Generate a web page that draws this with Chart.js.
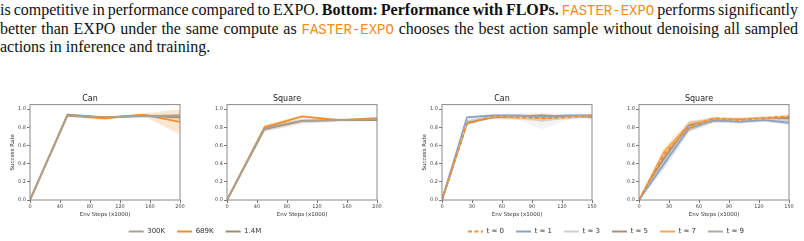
<!DOCTYPE html>
<html>
<head>
<meta charset="utf-8">
<script src="https://cdn.jsdelivr.net/npm/chart.js@4.4.1/dist/chart.umd.min.js"></script>
<style>
  body { margin: 0; width: 804px; height: 241px; overflow: hidden; background: #fff; position: relative; }
  .caption { position: absolute; left: 0; width: 798px; font-family: "Liberation Serif", serif; font-size: 16px; line-height: 18.5px; color: #111; }
  .caption.j { text-align: justify; text-align-last: justify; }
  .code { font-family: "Liberation Mono", monospace; color: #f28b20; font-size: 14px; }
  canvas { position: absolute; }
</style>
</head>
<body>
<div class="caption j" style="top:1px; word-spacing:-1px">is competitive in performance compared to EXPO. <b>Bottom: Performance with FLOPs.</b> <span class="code">FASTER-EXPO</span> performs significantly</div>
<div class="caption j" style="top:19.5px">better than EXPO under the same compute as <span class="code">FASTER-EXPO</span> chooses the best action sample without denoising all sampled</div>
<div class="caption" style="top:38px">actions in inference and training.</div>

<canvas id="canCompute" width="190" height="128" style="left:0px;top:90px"></canvas>
<canvas id="squareCompute" width="190" height="128" style="left:197px;top:90px"></canvas>
<canvas id="canDenoise" width="190" height="128" style="left:412px;top:90px"></canvas>
<canvas id="squareDenoise" width="190" height="128" style="left:609px;top:90px"></canvas>
<canvas id="computeLegend" width="390" height="25" style="left:0px;top:216px"></canvas>
<canvas id="denoiseLegend" width="392" height="25" style="left:410px;top:216px"></canvas>

<script>
const leftSteps = [0, 50, 100, 150, 200];
const rightSteps = [0, 25, 50, 75, 100, 125, 150];
const computeLabels = ['300K', '689K', '1.4M'];
const denoiseLabels = ['t = 0', 't = 1', 't = 3', 't = 5', 't = 7', 't = 9'];

// success rate, one row per series (300K, 689K, 1.4M)
const canComputeMean = [
    [0, 0.93, 0.91, 0.92, 0.93],
    [0, 0.93, 0.90, 0.94, 0.86],
    [0, 0.94, 0.91, 0.93, 0.91]
];
const canComputeSpread = [
    [0, 0.01, 0.01, 0.01, 0.02],
    [0, 0.02, 0.02, 0.01, 0.14],
    [0, 0.01, 0.01, 0.01, 0.03]
];
const squareComputeMean = [
    [0, 0.79, 0.87, 0.88, 0.89],
    [0, 0.80, 0.92, 0.88, 0.90],
    [0, 0.78, 0.87, 0.88, 0.88]
];
const squareComputeSpread = [
    [0, 0.03, 0.02, 0.01, 0.01],
    [0, 0.03, 0.01, 0.01, 0.01],
    [0, 0.03, 0.03, 0.02, 0.01]
];

// success rate, one row per denoising setting
const canDenoiseMean = [
    [0, 0.84, 0.92, 0.91, 0.90, 0.91, 0.93],
    [0, 0.91, 0.93, 0.93, 0.92, 0.93, 0.93],
    [0, 0.87, 0.92, 0.92, 0.87, 0.91, 0.92],
    [0, 0.85, 0.91, 0.92, 0.93, 0.92, 0.91],
    [0, 0.85, 0.91, 0.91, 0.91, 0.91, 0.93],
    [0, 0.86, 0.91, 0.92, 0.91, 0.92, 0.92]
];
const canDenoiseSpread = [
    [0, 0.02, 0.01, 0.02, 0.03, 0.02, 0.01],
    [0, 0.01, 0.01, 0.01, 0.01, 0.01, 0.01],
    [0, 0.02, 0.02, 0.03, 0.09, 0.03, 0.02],
    [0, 0.02, 0.01, 0.01, 0.01, 0.01, 0.01],
    [0, 0.02, 0.02, 0.03, 0.04, 0.02, 0.01],
    [0, 0.02, 0.01, 0.01, 0.01, 0.01, 0.01]
];
const squareDenoiseMean = [
    [0, 0.50, 0.80, 0.90, 0.88, 0.90, 0.92],
    [0, 0.40, 0.79, 0.88, 0.86, 0.88, 0.85],
    [0, 0.42, 0.80, 0.88, 0.87, 0.89, 0.88],
    [0, 0.46, 0.82, 0.87, 0.88, 0.89, 0.90],
    [0, 0.53, 0.83, 0.89, 0.89, 0.90, 0.91],
    [0, 0.44, 0.81, 0.88, 0.88, 0.89, 0.89]
];
const squareDenoiseSpread = [
    [0, 0.05, 0.04, 0.02, 0.02, 0.02, 0.02],
    [0, 0.06, 0.04, 0.02, 0.02, 0.02, 0.03],
    [0, 0.07, 0.06, 0.03, 0.02, 0.02, 0.02],
    [0, 0.06, 0.05, 0.02, 0.02, 0.02, 0.02],
    [0, 0.05, 0.04, 0.02, 0.02, 0.02, 0.02],
    [0, 0.06, 0.05, 0.02, 0.02, 0.02, 0.02]
];

const computeColours = ['#a9a293', '#f28e2b', '#a08a72'];
const computeDashes = [[], [], []];
const denoiseColours = ['#f28e2b', '#8fa2bf', '#cfcfcf', '#a88f76', '#f6a855', '#b2ab9c'];
const denoiseDashes = [[4, 2.5], [], [], [], [], []];

const FONT = 'DejaVu Sans';

function fade(hex, alpha) {
    const n = parseInt(hex.slice(1), 16);
    return `rgba(${(n >> 16) & 255}, ${(n >> 8) & 255}, ${n & 255}, ${alpha})`;
}

// matplotlib style box round the plot
const framePlugin = {
    id: 'frame',
    afterDraw(chart) {
        const { ctx, chartArea: a } = chart;
        ctx.save();
        ctx.strokeStyle = '#8a8a8a';
        ctx.lineWidth = 1;
        ctx.strokeRect(a.left, a.top, a.right - a.left, a.bottom - a.top);
        ctx.restore();
    }
};

function buildPanel(canvasId, title, steps, xStep, means, spreads, colours, dashes, showYTitle) {
    const lines = means.map((mean, i) => ({
        data: steps.map((x, j) => ({ x, y: mean[j] })),
        borderColor: colours[i],
        borderWidth: 1.8,
        borderDash: dashes[i],
        pointRadius: 0,
        fill: false
    }));

    // shaded bands go after the lines, fills are drawn first anyway
    const bands = [];
    means.forEach((mean, i) => {
        bands.push({
            data: steps.map((x, j) => ({ x, y: mean[j] + spreads[i][j] })),
            borderWidth: 0,
            pointRadius: 0,
            fill: false
        });
        bands.push({
            data: steps.map((x, j) => ({ x, y: mean[j] - spreads[i][j] })),
            borderWidth: 0,
            pointRadius: 0,
            fill: '-1',
            backgroundColor: fade(colours[i], 0.22)
        });
    });

    const ctx = document.getElementById(canvasId).getContext('2d');
    return new Chart(ctx, {
        type: 'line',
        data: { datasets: lines.concat(bands) },
        options: {
            responsive: false,
            animation: false,
            layout: { padding: { left: 0, right: 10, top: 0, bottom: 0 } },
            scales: {
                x: {
                    type: 'linear',
                    min: 0,
                    max: steps[steps.length - 1],
                    ticks: {
                        stepSize: xStep,
                        autoSkip: false,
                        maxRotation: 0,
                        padding: 1,
                        color: '#444',
                        font: { family: FONT, size: 5 }
                    },
                    grid: { drawOnChartArea: false, tickLength: 3, tickColor: '#555', tickWidth: 0.8 },
                    border: { display: false },
                    title: {
                        display: true,
                        text: 'Env Steps (x1000)',
                        color: '#333',
                        font: { family: FONT, size: 5.5 },
                        padding: { top: 0, bottom: 0 }
                    },
                    afterFit: scale => { scale.height = 18; }
                },
                y: {
                    min: 0,
                    max: 1.05,
                    ticks: {
                        stepSize: 0.2,
                        includeBounds: false,
                        padding: 1,
                        color: '#444',
                        font: { family: FONT, size: 5 },
                        callback: v => v.toFixed(1)
                    },
                    grid: { drawOnChartArea: false, tickLength: 3, tickColor: '#555', tickWidth: 0.8 },
                    border: { display: false },
                    title: {
                        display: showYTitle,
                        text: 'Success Rate',
                        color: '#333',
                        font: { family: FONT, size: 5.5 },
                        padding: { top: 9.4, bottom: 0 }
                    },
                    afterFit: scale => { scale.width = 30; }
                }
            },
            plugins: {
                legend: { display: false },
                tooltip: { enabled: false },
                filler: { drawTime: 'beforeDatasetsDraw' },
                title: {
                    display: true,
                    text: title,
                    color: '#222',
                    font: { family: FONT, size: 8, weight: 'normal' },
                    padding: { top: 4, bottom: 1 }
                }
            }
        },
        plugins: [framePlugin]
    });
}

// legend only, no marks
function buildLegend(canvasId, labels, colours, dashes) {
    const ctx = document.getElementById(canvasId).getContext('2d');
    const defaultLabels = Chart.defaults.plugins.legend.labels.generateLabels;
    return new Chart(ctx, {
        type: 'line',
        data: {
            datasets: labels.map((label, i) => ({
                label,
                data: [],
                borderColor: colours[i],
                backgroundColor: colours[i],
                borderWidth: 2,
                borderDash: dashes[i]
            }))
        },
        options: {
            responsive: false,
            animation: false,
            scales: { x: { display: false }, y: { display: false } },
            plugins: {
                tooltip: { enabled: false },
                legend: {
                    position: 'top',
                    maxHeight: 40,
                    labels: {
                        usePointStyle: true,
                        pointStyle: 'line',
                        pointStyleWidth: 15,
                        padding: 12,
                        color: '#333',
                        font: { family: FONT, size: 7 },
                        // point style loses the dash, put it back
                        generateLabels: chart => defaultLabels(chart).map(item => ({
                            ...item,
                            lineDash: dashes[item.datasetIndex]
                        }))
                    }
                }
            }
        }
    });
}

buildPanel('canCompute', 'Can', leftSteps, 40, canComputeMean, canComputeSpread, computeColours, computeDashes, true);
buildPanel('squareCompute', 'Square', leftSteps, 40, squareComputeMean, squareComputeSpread, computeColours, computeDashes, false);
buildPanel('canDenoise', 'Can', rightSteps, 30, canDenoiseMean, canDenoiseSpread, denoiseColours, denoiseDashes, true);
buildPanel('squareDenoise', 'Square', rightSteps, 30, squareDenoiseMean, squareDenoiseSpread, denoiseColours, denoiseDashes, false);
buildLegend('computeLegend', computeLabels, computeColours, computeDashes);
buildLegend('denoiseLegend', denoiseLabels, denoiseColours, denoiseDashes);
</script>
</body>
</html>
